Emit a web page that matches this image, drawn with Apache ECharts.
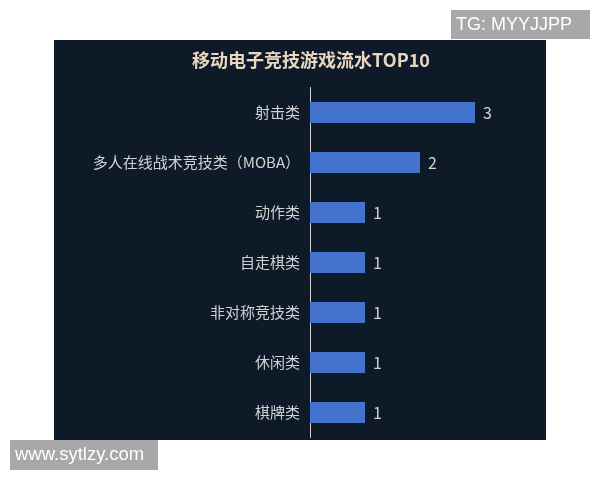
<!DOCTYPE html>
<html>
<head>
<meta charset="utf-8">
<script src="https://cdn.jsdelivr.net/npm/echarts@6/dist/echarts.min.js"></script>
<style>
html,body{margin:0;padding:0;background:#ffffff;}
#main{width:600px;height:480px;}
</style>
</head>
<body>
<div id="main"></div>
<script>
var titleText = '移动电子竞技游戏流水TOP10';
var categories = ['射击类', '多人在线战术竞技类（MOBA）', '动作类', '自走棋类', '非对称竞技类', '休闲类', '棋牌类'];
var values = [3, 2, 1, 1, 1, 1, 1];
var watermarkTop = 'TG: MYYJJPP';
var watermarkBottom = 'www.sytlzy.com';

var chart = echarts.init(document.getElementById('main'));
var cjk = '"Noto Sans CJK SC", "Noto Sans", sans-serif';
chart.setOption({
  backgroundColor: '#ffffff',
  animation: false,
  graphic: [
    { type: 'rect', z: -100, shape: { x: 54, y: 40, width: 492, height: 400 }, style: { fill: '#0f1a29' } },
    { type: 'text', z: 10, style: { text: titleText, x: 311, y: 60, textAlign: 'center', textVerticalAlign: 'middle', fill: '#e8d6c0', font: 'bold 18px ' + cjk } },
    { type: 'rect', z: 10, shape: { x: 451, y: 10, width: 139, height: 29 }, style: { fill: '#a8a8a8' } },
    { type: 'text', z: 11, style: { text: watermarkTop, x: 456, y: 25, textAlign: 'left', textVerticalAlign: 'middle', fill: '#ffffff', font: '18px "Liberation Sans", Arial, sans-serif' } },
    { type: 'rect', z: 10, shape: { x: 10, y: 440, width: 148, height: 30 }, style: { fill: '#a8a8a8' } },
    { type: 'text', z: 11, style: { text: watermarkBottom, x: 15, y: 455, textAlign: 'left', textVerticalAlign: 'middle', fill: '#ffffff', font: '18.5px "Liberation Sans", Arial, sans-serif' } }
  ],
  grid: { left: 310, right: 125, top: 87.5, bottom: 42.5, containLabel: false },
  xAxis: { type: 'value', min: 0, max: 3, show: false },
  yAxis: {
    type: 'category',
    data: categories,
    inverse: true,
    axisLine: { show: true, lineStyle: { color: '#d0d0d0', width: 1 } },
    axisTick: { show: false },
    splitLine: { show: false },
    axisLabel: { color: '#d2d2d2', fontSize: 15, margin: 10, fontFamily: cjk }
  },
  series: [{
    type: 'bar',
    data: values,
    barWidth: 21,
    itemStyle: { color: '#4373cc' },
    label: { show: true, position: 'right', distance: 8, color: '#d2d2d2', fontSize: 16, fontFamily: cjk }
  }]
});
</script>
</body>
</html>
